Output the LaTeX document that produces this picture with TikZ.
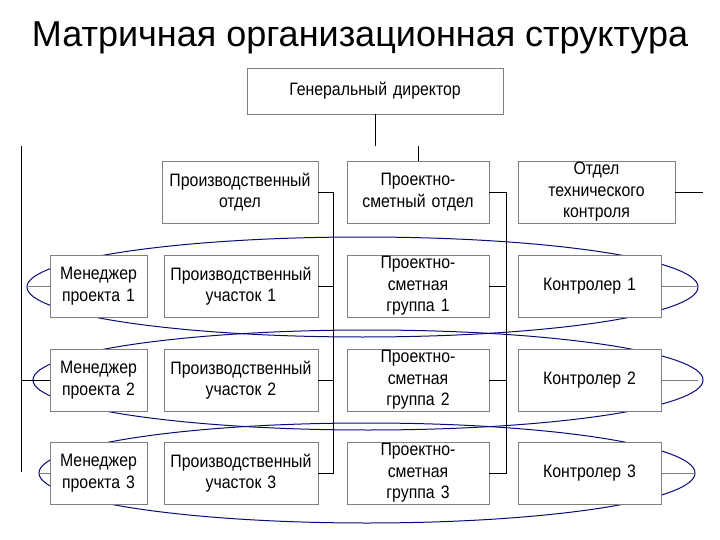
\documentclass[tikz,border=0pt]{standalone}
\usepackage{fontspec}
\setmainfont{Liberation Sans}
\newfontfamily\boxfont[FakeStretch=0.88]{Liberation Sans}
\definecolor{boxgray}{RGB}{128,128,128}
\definecolor{ringblue}{RGB}{10,10,120}
\begin{document}
\begin{tikzpicture}[x=1pt,y=-1pt,
  box/.style={draw=boxgray,fill=white,align=center,inner sep=0pt,
    text width=#1,font=\boxfont\fontsize{18}{21.5}\selectfont},
  ring/.style={draw=ringblue,line width=1pt}]

\useasboundingbox (0,0) rectangle (720,540);

\node[anchor=base] (title) at (360,47) {\fontsize{36}{40}\selectfont Матричная организационная структура};

% project rings
\draw[ring] (362.5,287) ellipse [x radius=335.5pt, y radius=50pt];
\draw[ring] (368,380) ellipse [x radius=335pt, y radius=50pt];
\draw[ring] (367,473) ellipse [x radius=328pt, y radius=50pt];

\node[box=256,minimum height=46] (dir) at (375,91) {Генеральный директор};

\node[box=156,minimum height=62] (pdo) at (240,192) {Производственный\\отдел};
\node[box=142,minimum height=62] (pso) at (418,192) {Проектно-\\сметный отдел};
\node[box=157,minimum height=62] (otk) at (596.5,192) {Отдел\\технического\\контроля};

\node[box=97,minimum height=62] (mgr1) at (98.5,286) {Менеджер\\проекта 1};
\node[box=154,minimum height=62] (uch1) at (241,286) {Производственный\\участок 1};
\node[box=142,minimum height=62] (grp1) at (418,286) {Проектно-\\сметная\\группа 1};
\node[box=143,minimum height=62] (ctl1) at (589.5,286) {Контролер 1};

\node[box=97,minimum height=62] (mgr2) at (98.5,380) {Менеджер\\проекта 2};
\node[box=154,minimum height=62] (uch2) at (241,380) {Производственный\\участок 2};
\node[box=142,minimum height=62] (grp2) at (418,380) {Проектно-\\сметная\\группа 2};
\node[box=143,minimum height=62] (ctl2) at (589.5,380) {Контролер 2};

\node[box=97,minimum height=62] (mgr3) at (98.5,473) {Менеджер\\проекта 3};
\node[box=154,minimum height=62] (uch3) at (241,473) {Производственный\\участок 3};
\node[box=142,minimum height=62] (grp3) at (418,473) {Проектно-\\сметная\\группа 3};
\node[box=143,minimum height=62] (ctl3) at (589.5,473) {Контролер 3};

% links
\coordinate (left top) at (21,146);
\coordinate (left end) at (21,472);

\draw (dir.south) -- ++(0,32);
\draw (pso.north) -- ++(0,-15);
\draw (left top) -- (left end);

\draw (pdo.east) -- ++(15,0) |- (uch3.east);
\draw (uch1.east) -- ++(15,0);
\draw (uch2.east) -- ++(15,0);

\draw (pso.east) -- ++(17,0) |- (grp3.east);
\draw (grp1.east) -- ++(17,0);
\draw (grp2.east) -- ++(17,0);

\draw (otk.east) -- ++(28,0);

\draw[boxgray] (mgr1.west) -- ++(-23,0);
\draw (mgr2.west) -- (left top |- mgr2.west);
\draw[boxgray] (mgr3.west) -- ++(-12,0);

\draw[boxgray] (ctl1.east) -- ++(37,0);
\draw[boxgray] (ctl2.east) -- ++(37,0);
\draw[boxgray] (ctl3.east) -- ++(34,0);

\end{tikzpicture}
\end{document}
